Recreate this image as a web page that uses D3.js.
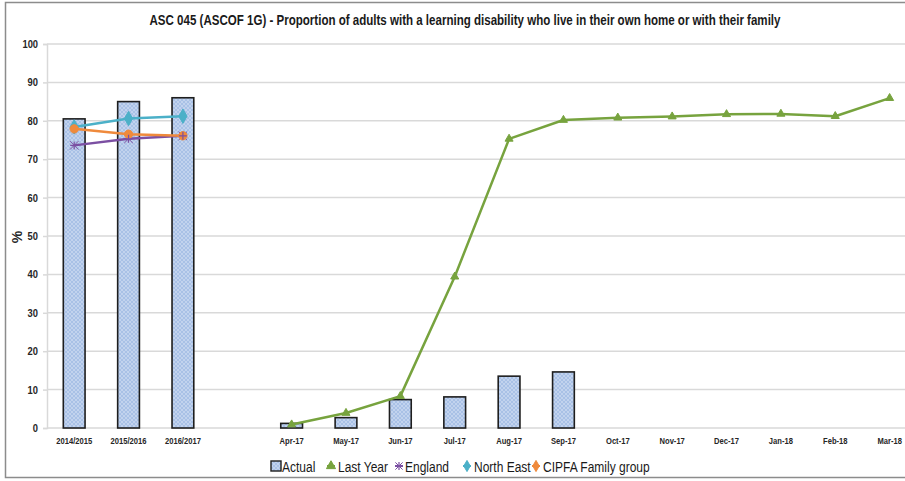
<!DOCTYPE html>
<html>
<head>
<meta charset="utf-8">
<script src="https://cdn.jsdelivr.net/npm/d3@7"></script>
<style>
  html, body { margin: 0; padding: 0; background: #fff; }
  svg { display: block; }
  text { font-family: "Liberation Sans Narrow", "Arial Narrow", "Liberation Sans", sans-serif; }
</style>
</head>
<body>
<svg id="chart" width="905" height="481"></svg>
<script>
// Periods on the x axis (one blank slot separates annual and monthly figures)
const categories = ["2014/2015", "2015/2016", "2016/2017", "",
  "Apr-17", "May-17", "Jun-17", "Jul-17", "Aug-17", "Sep-17",
  "Oct-17", "Nov-17", "Dec-17", "Jan-18", "Feb-18", "Mar-18"];

// Actual (bars)
const actual = [80.5, 85.0, 86.0, null, 1.2, 2.7, 7.4, 8.1, 13.5, 14.6,
  null, null, null, null, null, null];

// Last year's monthly profile
const lastYear = [null, null, null, null, 0.9, 3.9, 8.3, 39.4, 75.3, 80.2,
  80.8, 81.1, 81.7, 81.8, 81.2, 85.9];

// Comparator groups (annual only)
const annualCats = ["2014/2015", "2015/2016", "2016/2017"];
const england = [73.6, 75.3, 76.1];
const northEast = [78.4, 80.6, 81.2];
const cipfa = [77.9, 76.5, 76.1];

const yTicks = [0, 10, 20, 30, 40, 50, 60, 70, 80, 90, 100];

const svg = d3.select("#chart");

// Text placed inside a horizontally squeezed group, for a narrow typeface look
function narrowText(parent, x, y, sx, str) {
  return parent.append("g")
    .attr("transform", `translate(${x},${y}) scale(${sx},1)`)
    .append("text").text(str);
}

// Outer frame
svg.append("rect")
  .attr("x", 5.5).attr("y", 2.5)
  .attr("width", 920).attr("height", 475)
  .attr("fill", "none").attr("stroke", "#8c8c8c").attr("stroke-width", 1.5);

const x = d3.scaleBand().domain(categories).range([47, 916.8]).paddingInner(0.6).paddingOuter(0.3);
const y = d3.scaleLinear().domain([0, 100]).range([428, 44]);
const cx = c => x(c) + x.bandwidth() / 2;

// Hatched fill for bars
const defs = svg.append("defs");
const pat = defs.append("pattern")
  .attr("id", "hatch").attr("patternUnits", "userSpaceOnUse")
  .attr("width", 4).attr("height", 4);
pat.append("rect").attr("width", 4).attr("height", 4).attr("fill", "#a9c1e6");
pat.append("path").attr("d", "M0,0 L4,4 M4,0 L0,4")
  .attr("stroke", "#c9d8f0").attr("stroke-width", 0.8);

// Gridlines
svg.append("g")
  .selectAll("line").data(yTicks).join("line")
  .attr("x1", 47).attr("x2", 917)
  .attr("y1", d => y(d)).attr("y2", d => y(d))
  .attr("stroke", "#d9d9d9").attr("stroke-width", 1.5);

// Y axis
const ySx = 0.85;
const yAxis = svg.append("g").attr("transform", "translate(47,0)")
  .call(d3.axisLeft(y).tickValues(yTicks).tickSize(4).tickPadding(5));
yAxis.select(".domain").attr("stroke", "#d9d9d9").attr("stroke-width", 1.5);
yAxis.selectAll(".tick line").attr("stroke", "#d9d9d9").attr("stroke-width", 1.5);
yAxis.selectAll(".tick text")
  .attr("font-size", 11).attr("font-weight", "bold").attr("fill", "#262626")
  .style("font-family", "'Liberation Sans Narrow', 'Arial Narrow', 'Liberation Sans', sans-serif")
  .attr("x", -9 / ySx)
  .attr("transform", `scale(${ySx},1)`);

// X axis labels
const xSx = 0.8;
const xAxis = svg.append("g").attr("transform", "translate(0,428)")
  .call(d3.axisBottom(x).tickSize(0).tickPadding(9));
xAxis.select(".domain").remove();
xAxis.selectAll(".tick text")
  .attr("font-size", 9.5).attr("font-weight", "bold").attr("fill", "#262626")
  .style("font-family", "'Liberation Sans Narrow', 'Arial Narrow', 'Liberation Sans', sans-serif")
  .attr("transform", `scale(${xSx},1)`);

// Bars
svg.append("g")
  .selectAll("rect")
  .data(categories.map((c, i) => ({ c, v: actual[i] })).filter(d => d.v != null))
  .join("rect")
  .attr("x", d => x(d.c)).attr("width", x.bandwidth())
  .attr("y", d => y(d.v)).attr("height", d => y(0) - y(d.v))
  .attr("fill", "url(#hatch)").attr("stroke", "#1e1e1e").attr("stroke-width", 1.6);

// Line helpers
const lineGen = d3.line().defined(d => d.v != null).x(d => cx(d.c)).y(d => y(d.v));

function drawSeries(cats, vals, color, symbol, size) {
  const pts = cats.map((c, i) => ({ c, v: vals[i] }));
  svg.append("path").datum(pts)
    .attr("d", lineGen).attr("fill", "none")
    .attr("stroke", color).attr("stroke-width", 2.5).attr("stroke-linejoin", "round");
  svg.append("g").selectAll("path").data(pts.filter(d => d.v != null)).join("path")
    .attr("transform", d => `translate(${cx(d.c)},${y(d.v)})`)
    .attr("d", d3.symbol().type(symbol).size(size))
    .attr("fill", color).attr("stroke", color).attr("stroke-width", 1);
}

const cGreen = "#77a33e", cPurple = "#7b4fa2", cTeal = "#4bb0c8", cOrange = "#ef8a3c";

drawSeries(categories, lastYear, cGreen, d3.symbolTriangle, 28);
drawSeries(annualCats, england, cPurple, d3.symbolX, 50);
drawSeries(annualCats, northEast, cTeal, d3.symbolDiamond, 60);
drawSeries(annualCats, cipfa, cOrange, d3.symbolCircle, 55);

// England markers as stars (cross + x)
svg.append("g").selectAll("path").data(annualCats.map((c, i) => ({ c, v: england[i] }))).join("path")
  .attr("transform", d => `translate(${cx(d.c)},${y(d.v)})`)
  .attr("d", "M0,-4 L0,4 M-4,0 L4,0").attr("stroke", cPurple).attr("stroke-width", 1.2);

// Title
narrowText(svg, 465, 25, 0.77,
  "ASC 045 (ASCOF 1G) - Proportion of adults with a learning disability who live in their own home or with their family")
  .attr("text-anchor", "middle")
  .attr("font-size", 15).attr("font-weight", "bold").attr("fill", "#1a1a1a");

// Y axis title
svg.append("text")
  .attr("transform", "translate(22,237) rotate(-90)").attr("text-anchor", "middle")
  .attr("font-size", 14).attr("font-weight", "bold").attr("fill", "#262626")
  .text("%");

// Legend
const legendItems = [
  { name: "Actual", type: "bar", x: 276, tx: 282 },
  { name: "Last Year", color: cGreen, symbol: d3.symbolTriangle, x: 331, tx: 338 },
  { name: "England", color: cPurple, symbol: d3.symbolX, x: 399, tx: 405, star: true },
  { name: "North East", color: cTeal, symbol: d3.symbolDiamond, x: 467, tx: 474 },
  { name: "CIPFA Family group", color: cOrange, symbol: d3.symbolDiamond, x: 536, tx: 543 }
];
const lg = svg.append("g").attr("transform", "translate(0,466)");
legendItems.forEach(it => {
  if (it.type === "bar") {
    lg.append("rect").attr("x", it.x - 5).attr("y", -5).attr("width", 10).attr("height", 10)
      .attr("fill", "url(#hatch)").attr("stroke", "#1e1e1e").attr("stroke-width", 1.4);
  } else {
    lg.append("line").attr("x1", it.x - 4).attr("x2", it.x + 4).attr("y1", 0).attr("y2", 0)
      .attr("stroke", it.color).attr("stroke-width", 2);
    lg.append("path").attr("transform", `translate(${it.x},0)`)
      .attr("d", d3.symbol().type(it.symbol).size(36)).attr("fill", it.color).attr("stroke", it.color);
    if (it.star) {
      lg.append("path").attr("transform", `translate(${it.x},0)`)
        .attr("d", "M0,-4 L0,4 M-4,0 L4,0").attr("stroke", it.color).attr("stroke-width", 1.2);
    }
  }
  narrowText(lg, it.tx, 5.5, 0.8, it.name)
    .attr("font-size", 15).attr("fill", "#1a1a1a");
});
</script>
</body>
</html>
